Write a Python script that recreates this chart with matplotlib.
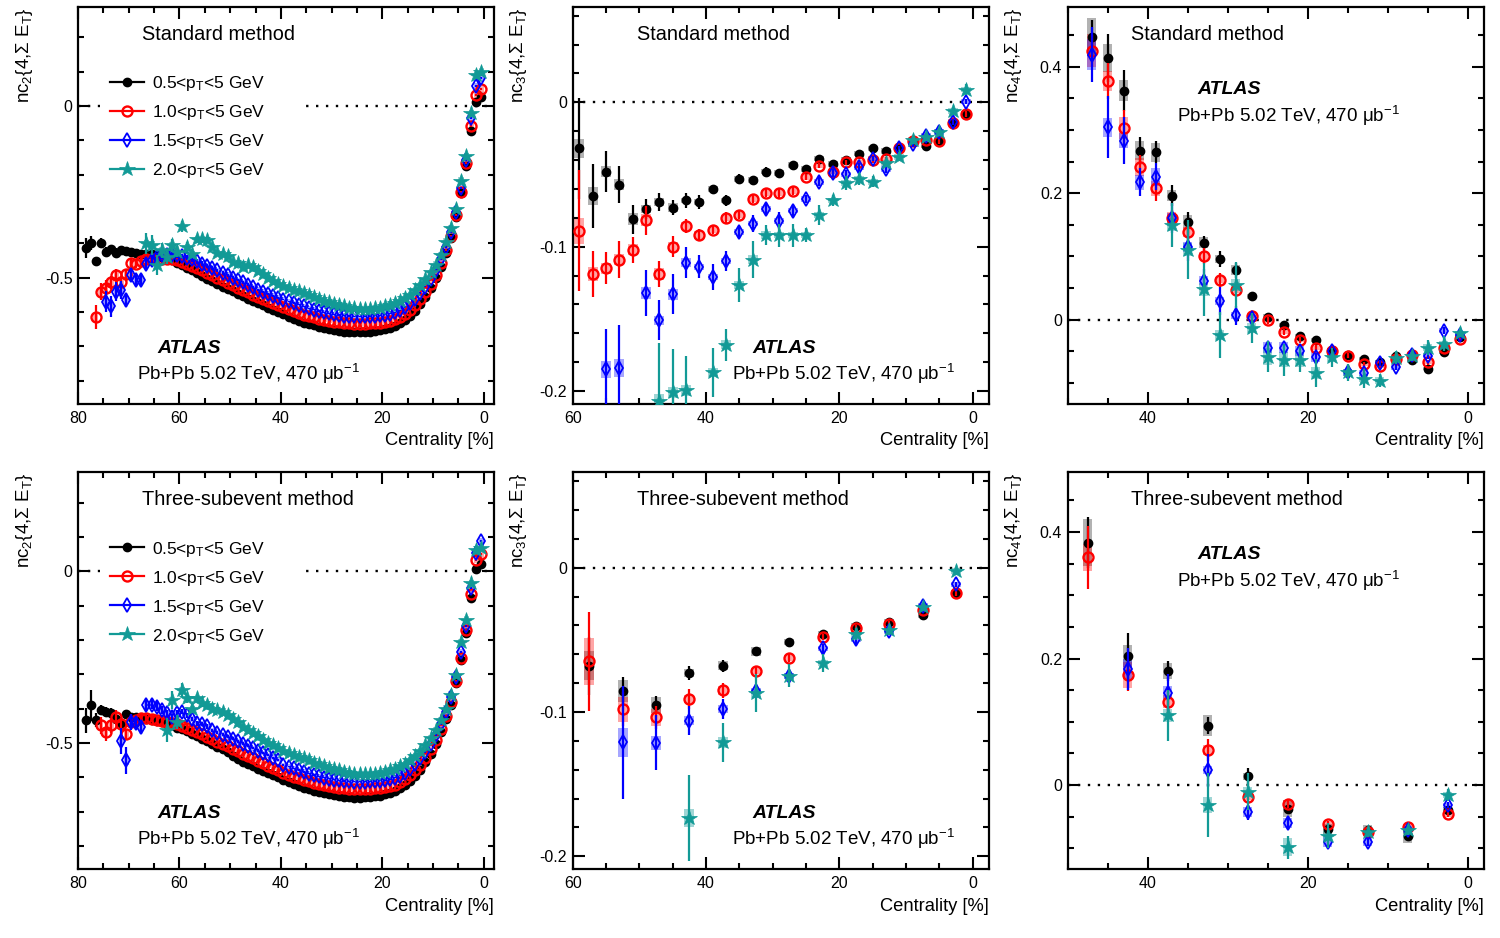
import numpy as np
import matplotlib
matplotlib.use("Agg")
import matplotlib.pyplot as plt
from matplotlib.lines import Line2D
from matplotlib.patches import Rectangle
from matplotlib.ticker import MultipleLocator, FuncFormatter

plt.rcParams['font.family'] = ['Liberation Sans', 'DejaVu Sans']
plt.rcParams['mathtext.fontset'] = 'custom'
plt.rcParams['mathtext.rm'] = 'Liberation Sans'
plt.rcParams['mathtext.it'] = 'Liberation Sans:italic'
plt.rcParams['mathtext.bf'] = 'Liberation Sans:bold'
plt.rcParams['axes.unicode_minus'] = False

# ------------------------------------------------------------------ labels
SERIES_LABELS = ['0.5<p$_{\\rm T}$<5 GeV', '1.0<p$_{\\rm T}$<5 GeV',
                 '1.5<p$_{\\rm T}$<5 GeV', '2.0<p$_{\\rm T}$<5 GeV']
YLABELS = ['nc$_{2}${4,Σ E$_{\\rm T}$}', 'nc$_{3}${4,Σ E$_{\\rm T}$}',
           'nc$_{4}${4,Σ E$_{\\rm T}$}']
METHODS = ['Standard method', 'Three-subevent method']
XLABEL = 'Centrality [%]'
ATLAS_TXT = 'ATLAS'
LUMI_TXT = 'Pb+Pb 5.02 TeV, 470 μb$^{-1}$'

# ------------------------------------------------------------------ nc2, standard (1% bins from 0.5 %)
TL_K = [0.027, 0.012, -0.073, -0.174, -0.254, -0.322, -0.385, -0.429, -0.468, -0.502,
        -0.531, -0.556, -0.578, -0.596, -0.611, -0.622, -0.632, -0.640, -0.646, -0.650,
        -0.653, -0.655, -0.657, -0.658, -0.659, -0.659, -0.658, -0.657, -0.655, -0.652,
        -0.650, -0.647, -0.643, -0.639, -0.635, -0.631, -0.626, -0.620, -0.614, -0.607,
        -0.600, -0.594, -0.588, -0.581, -0.575, -0.568, -0.561, -0.554, -0.547, -0.540,
        -0.533, -0.526, -0.518, -0.511, -0.503, -0.495, -0.487, -0.479, -0.471, -0.464,
        -0.457, -0.450, -0.444, -0.439, -0.435, -0.432, -0.430, -0.430, -0.427, -0.426,
        -0.423, -0.420, -0.427, -0.418, -0.424, -0.400, -0.452, -0.400, -0.414]
TL_K_STAT = [0.003, 0.003, 0.003, 0.003, 0.003, 0.003, 0.003, 0.003, 0.003, 0.003,
             0.002, 0.002, 0.002, 0.002, 0.002, 0.002, 0.002, 0.002, 0.002, 0.002,
             0.002, 0.002, 0.002, 0.002, 0.002, 0.002, 0.002, 0.002, 0.002, 0.002,
             0.002, 0.002, 0.002, 0.002, 0.002, 0.002, 0.002, 0.002, 0.002, 0.002,
             0.003, 0.003, 0.003, 0.003, 0.003, 0.003, 0.003, 0.003, 0.003, 0.003,
             0.003, 0.004, 0.004, 0.004, 0.005, 0.005, 0.005, 0.006, 0.006, 0.006,
             0.007, 0.007, 0.008, 0.008, 0.009, 0.009, 0.010, 0.010, 0.011, 0.011,
             0.012, 0.013, 0.014, 0.013, 0.012, 0.015, 0.012, 0.020, 0.030]
TL_K_SYS = [0.010, 0.010, 0.010, 0.010, 0.010, 0.010, 0.010, 0.010, 0.010, 0.010,
            0.008, 0.008, 0.008, 0.008, 0.008, 0.008, 0.008, 0.008, 0.008, 0.008,
            0.008, 0.008, 0.008, 0.008, 0.008, 0.008, 0.008, 0.008, 0.008, 0.008,
            0.007, 0.007, 0.007, 0.007, 0.007, 0.007, 0.007, 0.007, 0.007, 0.007,
            0.007, 0.007, 0.007, 0.007, 0.007, 0.007, 0.007, 0.007, 0.007, 0.007,
            0.008, 0.008, 0.008, 0.008, 0.008, 0.008, 0.008, 0.008, 0.008, 0.008,
            0.009, 0.009, 0.009, 0.009, 0.009, 0.009, 0.009, 0.009, 0.009, 0.009,
            0.010, 0.010, 0.010, 0.010, 0.010, 0.010, 0.010, 0.010, 0.010]

TL_R = [0.049, 0.032, -0.058, -0.167, -0.250, -0.318, -0.378, -0.420, -0.458, -0.491,
        -0.519, -0.543, -0.563, -0.580, -0.594, -0.605, -0.614, -0.621, -0.626, -0.629,
        -0.631, -0.632, -0.633, -0.634, -0.634, -0.634, -0.633, -0.632, -0.630, -0.628,
        -0.626, -0.623, -0.620, -0.616, -0.612, -0.608, -0.603, -0.598, -0.592, -0.586,
        -0.581, -0.575, -0.569, -0.563, -0.557, -0.550, -0.543, -0.536, -0.529, -0.522,
        -0.515, -0.508, -0.500, -0.493, -0.486, -0.478, -0.471, -0.465, -0.459, -0.454,
        -0.449, -0.446, -0.446, -0.447, -0.449, -0.446, -0.445, -0.453, -0.460, -0.458,
        -0.489, -0.512, -0.492, -0.514, -0.530, -0.541, -0.615]
TL_R_STAT = [0.003, 0.003, 0.003, 0.003, 0.003, 0.003, 0.003, 0.003, 0.003, 0.003,
             0.002, 0.002, 0.002, 0.002, 0.002, 0.002, 0.002, 0.002, 0.002, 0.002,
             0.002, 0.002, 0.002, 0.002, 0.002, 0.002, 0.002, 0.002, 0.002, 0.002,
             0.002, 0.002, 0.002, 0.002, 0.002, 0.002, 0.002, 0.002, 0.002, 0.002,
             0.003, 0.003, 0.003, 0.003, 0.003, 0.003, 0.003, 0.003, 0.003, 0.003,
             0.004, 0.004, 0.004, 0.005, 0.005, 0.005, 0.006, 0.006, 0.006, 0.007,
             0.007, 0.008, 0.008, 0.009, 0.009, 0.010, 0.010, 0.011, 0.012, 0.012,
             0.014, 0.016, 0.018, 0.020, 0.022, 0.025, 0.035]
TL_R_SYS = [0.010, 0.010, 0.010, 0.010, 0.010, 0.010, 0.010, 0.010, 0.010, 0.010,
            0.008, 0.008, 0.008, 0.008, 0.008, 0.008, 0.008, 0.008, 0.008, 0.008,
            0.008, 0.008, 0.008, 0.008, 0.008, 0.008, 0.008, 0.008, 0.008, 0.008,
            0.007, 0.007, 0.007, 0.007, 0.007, 0.007, 0.007, 0.007, 0.007, 0.007,
            0.007, 0.007, 0.007, 0.007, 0.007, 0.007, 0.007, 0.007, 0.007, 0.007,
            0.008, 0.008, 0.008, 0.008, 0.008, 0.008, 0.008, 0.008, 0.008, 0.008,
            0.010, 0.010, 0.010, 0.010, 0.010, 0.010, 0.010, 0.010, 0.010, 0.010,
            0.012, 0.012, 0.012, 0.012, 0.012, 0.012, 0.012]

TL_B = [0.080, 0.058, -0.036, -0.157, -0.240, -0.310, -0.368, -0.410, -0.446, -0.477,
        -0.503, -0.526, -0.545, -0.561, -0.575, -0.586, -0.595, -0.601, -0.605, -0.608,
        -0.610, -0.611, -0.612, -0.613, -0.613, -0.613, -0.612, -0.611, -0.609, -0.607,
        -0.604, -0.601, -0.597, -0.593, -0.589, -0.584, -0.579, -0.574, -0.569, -0.564,
        -0.559, -0.553, -0.547, -0.541, -0.535, -0.528, -0.521, -0.514, -0.507, -0.500,
        -0.493, -0.486, -0.479, -0.472, -0.465, -0.459, -0.453, -0.447, -0.442, -0.438,
        -0.435, -0.433, -0.433, -0.435, -0.440, -0.448, -0.460, -0.507, -0.507, -0.492,
        -0.565, -0.536, -0.541, -0.584, -0.570]
TL_B_STAT = [0.003, 0.003, 0.003, 0.003, 0.003, 0.003, 0.003, 0.003, 0.003, 0.003,
             0.002, 0.002, 0.002, 0.002, 0.002, 0.002, 0.002, 0.002, 0.002, 0.002,
             0.002, 0.002, 0.002, 0.002, 0.002, 0.002, 0.002, 0.002, 0.002, 0.002,
             0.002, 0.002, 0.002, 0.002, 0.002, 0.002, 0.002, 0.002, 0.002, 0.002,
             0.003, 0.003, 0.003, 0.003, 0.003, 0.004, 0.004, 0.004, 0.004, 0.004,
             0.004, 0.005, 0.005, 0.005, 0.006, 0.006, 0.007, 0.007, 0.008, 0.008,
             0.009, 0.009, 0.010, 0.011, 0.012, 0.013, 0.014, 0.015, 0.016, 0.018,
             0.020, 0.025, 0.028, 0.030, 0.030]
TL_B_SYS = [0.010, 0.010, 0.010, 0.010, 0.010, 0.010, 0.010, 0.010, 0.010, 0.010,
            0.008, 0.008, 0.008, 0.008, 0.008, 0.008, 0.008, 0.008, 0.008, 0.008,
            0.008, 0.008, 0.008, 0.008, 0.008, 0.008, 0.008, 0.008, 0.008, 0.008,
            0.007, 0.007, 0.007, 0.007, 0.007, 0.007, 0.007, 0.007, 0.007, 0.007,
            0.007, 0.007, 0.007, 0.007, 0.007, 0.007, 0.007, 0.007, 0.007, 0.007,
            0.008, 0.008, 0.008, 0.008, 0.008, 0.008, 0.008, 0.008, 0.008, 0.008,
            0.010, 0.010, 0.010, 0.010, 0.010, 0.010, 0.010, 0.010, 0.010, 0.010,
            0.012, 0.012, 0.012, 0.012, 0.012]

TL_G = [0.100, 0.090, -0.021, -0.146, -0.218, -0.300, -0.356, -0.396, -0.434, -0.462,
        -0.485, -0.505, -0.522, -0.537, -0.550, -0.560, -0.568, -0.575, -0.580, -0.584,
        -0.587, -0.589, -0.590, -0.590, -0.590, -0.589, -0.587, -0.584, -0.580, -0.576,
        -0.572, -0.567, -0.562, -0.557, -0.551, -0.545, -0.540, -0.535, -0.530, -0.524,
        -0.518, -0.510, -0.500, -0.490, -0.480, -0.468, -0.463, -0.470, -0.458, -0.455,
        -0.438, -0.430, -0.428, -0.410, -0.390, -0.387, -0.387, -0.430, -0.410, -0.351,
        -0.425, -0.405, -0.440, -0.420, -0.463, -0.405, -0.400]
TL_G_STAT = [0.004, 0.004, 0.004, 0.004, 0.004, 0.004, 0.004, 0.004, 0.004, 0.004,
             0.003, 0.003, 0.003, 0.003, 0.003, 0.003, 0.003, 0.003, 0.003, 0.003,
             0.003, 0.003, 0.003, 0.003, 0.003, 0.003, 0.003, 0.003, 0.003, 0.003,
             0.003, 0.003, 0.003, 0.003, 0.003, 0.003, 0.003, 0.003, 0.003, 0.003,
             0.004, 0.004, 0.005, 0.005, 0.005, 0.006, 0.006, 0.007, 0.007, 0.008,
             0.008, 0.009, 0.009, 0.010, 0.010, 0.011, 0.012, 0.013, 0.014, 0.015,
             0.016, 0.018, 0.020, 0.022, 0.030, 0.030, 0.030]
TL_G_SYS = [0.010, 0.010, 0.010, 0.010, 0.010, 0.010, 0.010, 0.010, 0.010, 0.010,
            0.008, 0.008, 0.008, 0.008, 0.008, 0.008, 0.008, 0.008, 0.008, 0.008,
            0.008, 0.008, 0.008, 0.008, 0.008, 0.008, 0.008, 0.008, 0.008, 0.008,
            0.007, 0.007, 0.007, 0.007, 0.007, 0.007, 0.007, 0.007, 0.007, 0.007,
            0.007, 0.007, 0.007, 0.007, 0.007, 0.007, 0.007, 0.007, 0.007, 0.007,
            0.008, 0.008, 0.008, 0.008, 0.008, 0.008, 0.008, 0.008, 0.008, 0.008,
            0.010, 0.010, 0.010, 0.010, 0.010, 0.010, 0.010]

# ------------------------------------------------------------------ nc2, three-subevent (1% bins)
BL_K = [0.020, 0.007, -0.078, -0.180, -0.257, -0.326, -0.390, -0.429, -0.468, -0.502,
        -0.531, -0.556, -0.578, -0.596, -0.611, -0.622, -0.632, -0.640, -0.646, -0.650,
        -0.653, -0.655, -0.657, -0.658, -0.659, -0.659, -0.658, -0.657, -0.655, -0.652,
        -0.650, -0.647, -0.643, -0.639, -0.635, -0.631, -0.626, -0.620, -0.614, -0.607,
        -0.600, -0.594, -0.588, -0.581, -0.575, -0.568, -0.561, -0.554, -0.546, -0.539,
        -0.527, -0.519, -0.511, -0.503, -0.495, -0.487, -0.480, -0.473, -0.466, -0.460,
        -0.455, -0.449, -0.444, -0.440, -0.436, -0.433, -0.431, -0.430, -0.425, -0.425,
        -0.416, -0.443, -0.429, -0.414, -0.409, -0.404, -0.434, -0.390, -0.434]
BL_K_STAT = [0.003, 0.003, 0.003, 0.003, 0.003, 0.003, 0.003, 0.003, 0.003, 0.003,
             0.002, 0.002, 0.002, 0.002, 0.002, 0.002, 0.002, 0.002, 0.002, 0.002,
             0.002, 0.002, 0.002, 0.002, 0.002, 0.002, 0.002, 0.002, 0.002, 0.002,
             0.002, 0.002, 0.002, 0.002, 0.002, 0.002, 0.002, 0.002, 0.002, 0.002,
             0.003, 0.003, 0.003, 0.003, 0.003, 0.003, 0.003, 0.003, 0.003, 0.003,
             0.003, 0.004, 0.004, 0.004, 0.005, 0.005, 0.005, 0.006, 0.006, 0.006,
             0.007, 0.007, 0.008, 0.008, 0.009, 0.009, 0.010, 0.010, 0.011, 0.012,
             0.013, 0.015, 0.016, 0.015, 0.014, 0.015, 0.020, 0.045, 0.037]
BL_K_SYS = [0.010, 0.010, 0.010, 0.010, 0.010, 0.010, 0.010, 0.010, 0.010, 0.010,
            0.008, 0.008, 0.008, 0.008, 0.008, 0.008, 0.008, 0.008, 0.008, 0.008,
            0.008, 0.008, 0.008, 0.008, 0.008, 0.008, 0.008, 0.008, 0.008, 0.008,
            0.007, 0.007, 0.007, 0.007, 0.007, 0.007, 0.007, 0.007, 0.007, 0.007,
            0.007, 0.007, 0.007, 0.007, 0.007, 0.007, 0.007, 0.007, 0.007, 0.007,
            0.008, 0.008, 0.008, 0.008, 0.008, 0.008, 0.008, 0.008, 0.008, 0.008,
            0.009, 0.009, 0.009, 0.009, 0.009, 0.009, 0.009, 0.009, 0.009, 0.009,
            0.010, 0.010, 0.010, 0.010, 0.010, 0.010, 0.010, 0.010, 0.010]

BL_R = [0.049, 0.034, -0.066, -0.170, -0.253, -0.320, -0.380, -0.421, -0.459, -0.492,
        -0.519, -0.543, -0.563, -0.580, -0.594, -0.605, -0.614, -0.621, -0.626, -0.629,
        -0.631, -0.632, -0.633, -0.634, -0.634, -0.634, -0.633, -0.632, -0.630, -0.628,
        -0.626, -0.623, -0.620, -0.616, -0.612, -0.608, -0.603, -0.598, -0.592, -0.586,
        -0.578, -0.572, -0.566, -0.559, -0.552, -0.545, -0.538, -0.531, -0.524, -0.517,
        -0.510, -0.503, -0.496, -0.489, -0.482, -0.475, -0.468, -0.461, -0.455, -0.450,
        -0.446, -0.442, -0.439, -0.436, -0.433, -0.430, -0.427, -0.427, -0.434, -0.439,
        -0.473, -0.445, -0.424, -0.448, -0.468, -0.448]
BL_R_STAT = [0.003, 0.003, 0.003, 0.003, 0.003, 0.003, 0.003, 0.003, 0.003, 0.003,
             0.002, 0.002, 0.002, 0.002, 0.002, 0.002, 0.002, 0.002, 0.002, 0.002,
             0.002, 0.002, 0.002, 0.002, 0.002, 0.002, 0.002, 0.002, 0.002, 0.002,
             0.002, 0.002, 0.002, 0.002, 0.002, 0.002, 0.002, 0.002, 0.002, 0.002,
             0.003, 0.003, 0.003, 0.003, 0.003, 0.003, 0.003, 0.003, 0.003, 0.003,
             0.004, 0.004, 0.004, 0.005, 0.005, 0.005, 0.006, 0.006, 0.006, 0.007,
             0.007, 0.008, 0.008, 0.009, 0.009, 0.010, 0.010, 0.011, 0.012, 0.013,
             0.015, 0.017, 0.020, 0.022, 0.025, 0.025]
BL_R_SYS = [0.010, 0.010, 0.010, 0.010, 0.010, 0.010, 0.010, 0.010, 0.010, 0.010,
            0.008, 0.008, 0.008, 0.008, 0.008, 0.008, 0.008, 0.008, 0.008, 0.008,
            0.008, 0.008, 0.008, 0.008, 0.008, 0.008, 0.008, 0.008, 0.008, 0.008,
            0.007, 0.007, 0.007, 0.007, 0.007, 0.007, 0.007, 0.007, 0.007, 0.007,
            0.007, 0.007, 0.007, 0.007, 0.007, 0.007, 0.007, 0.007, 0.007, 0.007,
            0.008, 0.008, 0.008, 0.008, 0.008, 0.008, 0.008, 0.008, 0.008, 0.008,
            0.010, 0.010, 0.010, 0.010, 0.010, 0.010, 0.010, 0.010, 0.010, 0.010,
            0.012, 0.012, 0.012, 0.012, 0.012, 0.012]

BL_B = [0.088, 0.053, -0.049, -0.159, -0.236, -0.308, -0.366, -0.409, -0.445, -0.476,
        -0.503, -0.526, -0.545, -0.561, -0.575, -0.586, -0.595, -0.601, -0.605, -0.608,
        -0.610, -0.611, -0.612, -0.613, -0.613, -0.613, -0.612, -0.611, -0.609, -0.607,
        -0.604, -0.601, -0.597, -0.593, -0.589, -0.584, -0.579, -0.574, -0.569, -0.564,
        -0.549, -0.543, -0.536, -0.529, -0.522, -0.515, -0.508, -0.502, -0.495, -0.488,
        -0.482, -0.476, -0.470, -0.463, -0.452, -0.445, -0.443, -0.430, -0.420, -0.409,
        -0.414, -0.424, -0.414, -0.404, -0.394, -0.389, -0.389, -0.453, -0.443, -0.439,
        -0.551, -0.494]
BL_B_STAT = [0.003, 0.003, 0.003, 0.003, 0.003, 0.003, 0.003, 0.003, 0.003, 0.003,
             0.002, 0.002, 0.002, 0.002, 0.002, 0.002, 0.002, 0.002, 0.002, 0.002,
             0.002, 0.002, 0.002, 0.002, 0.002, 0.002, 0.002, 0.002, 0.002, 0.002,
             0.002, 0.002, 0.002, 0.002, 0.002, 0.002, 0.002, 0.002, 0.002, 0.002,
             0.003, 0.003, 0.003, 0.003, 0.003, 0.004, 0.004, 0.004, 0.004, 0.004,
             0.004, 0.005, 0.005, 0.005, 0.006, 0.006, 0.007, 0.007, 0.008, 0.008,
             0.009, 0.009, 0.010, 0.011, 0.012, 0.013, 0.014, 0.020, 0.020, 0.022,
             0.040, 0.038]
BL_B_SYS = [0.010, 0.010, 0.010, 0.010, 0.010, 0.010, 0.010, 0.010, 0.010, 0.010,
            0.008, 0.008, 0.008, 0.008, 0.008, 0.008, 0.008, 0.008, 0.008, 0.008,
            0.008, 0.008, 0.008, 0.008, 0.008, 0.008, 0.008, 0.008, 0.008, 0.008,
            0.007, 0.007, 0.007, 0.007, 0.007, 0.007, 0.007, 0.007, 0.007, 0.007,
            0.007, 0.007, 0.007, 0.007, 0.007, 0.007, 0.007, 0.007, 0.007, 0.007,
            0.008, 0.008, 0.008, 0.008, 0.008, 0.008, 0.008, 0.008, 0.008, 0.008,
            0.010, 0.010, 0.010, 0.010, 0.010, 0.010, 0.010, 0.010, 0.010, 0.010,
            0.012, 0.012]

BL_G = [0.068, 0.063, -0.034, -0.141, -0.207, -0.302, -0.360, -0.400, -0.434, -0.463,
        -0.485, -0.505, -0.522, -0.537, -0.550, -0.560, -0.568, -0.575, -0.580, -0.584,
        -0.587, -0.589, -0.590, -0.590, -0.590, -0.589, -0.587, -0.584, -0.580, -0.576,
        -0.572, -0.567, -0.562, -0.557, -0.551, -0.545, -0.540, -0.535, -0.530, -0.522,
        -0.515, -0.507, -0.500, -0.490, -0.480, -0.470, -0.462, -0.453, -0.440, -0.430,
        -0.419, -0.410, -0.404, -0.400, -0.390, -0.385, -0.370, -0.400, -0.370, -0.346,
        -0.440, -0.375, -0.463]
BL_G_STAT = [0.004, 0.004, 0.004, 0.004, 0.004, 0.004, 0.004, 0.004, 0.004, 0.004,
             0.003, 0.003, 0.003, 0.003, 0.003, 0.003, 0.003, 0.003, 0.003, 0.003,
             0.003, 0.003, 0.003, 0.003, 0.003, 0.003, 0.003, 0.003, 0.003, 0.003,
             0.003, 0.003, 0.003, 0.003, 0.003, 0.003, 0.003, 0.003, 0.003, 0.003,
             0.004, 0.004, 0.005, 0.005, 0.005, 0.006, 0.006, 0.007, 0.007, 0.008,
             0.008, 0.009, 0.009, 0.010, 0.010, 0.011, 0.012, 0.013, 0.014, 0.020,
             0.020, 0.025, 0.035]
BL_G_SYS = [0.010, 0.010, 0.010, 0.010, 0.010, 0.010, 0.010, 0.010, 0.010, 0.010,
            0.008, 0.008, 0.008, 0.008, 0.008, 0.008, 0.008, 0.008, 0.008, 0.008,
            0.008, 0.008, 0.008, 0.008, 0.008, 0.008, 0.008, 0.008, 0.008, 0.008,
            0.007, 0.007, 0.007, 0.007, 0.007, 0.007, 0.007, 0.007, 0.007, 0.007,
            0.007, 0.007, 0.007, 0.007, 0.007, 0.007, 0.007, 0.007, 0.007, 0.007,
            0.008, 0.008, 0.008, 0.008, 0.008, 0.008, 0.008, 0.008, 0.008, 0.008,
            0.010, 0.010, 0.010]

# ------------------------------------------------------------------ nc3, standard (2% bins)
TM_K_X = [59, 57, 55, 53, 51, 49, 47, 45, 43, 41, 39, 37, 35, 33, 31, 29, 27, 25, 23, 21,
          19, 17, 15, 13, 11, 9, 7, 5, 3, 1]
TM_K = [-0.032, -0.065, -0.048, -0.057, -0.081, -0.074, -0.069, -0.073, -0.068, -0.069,
        -0.060, -0.068, -0.053, -0.054, -0.048, -0.049, -0.0435, -0.046, -0.039, -0.043,
        -0.040, -0.0355, -0.032, -0.034, -0.032, -0.027, -0.030, -0.027, -0.014, -0.0083]
TM_K_STAT = [0.035, 0.022, 0.014, 0.013, 0.010, 0.007, 0.006, 0.005, 0.005, 0.005,
             0.003, 0.004, 0.003, 0.003, 0.003, 0.003, 0.002, 0.002, 0.002, 0.002,
             0.002, 0.002, 0.002, 0.002, 0.002, 0.002, 0.002, 0.002, 0.002, 0.002]
TM_K_SYS = [0.0065, 0.006, 0.004, 0.004, 0.004, 0.003, 0.003, 0.003, 0.002, 0.002,
            0.002, 0.002, 0.002, 0.002, 0.002, 0.002, 0.002, 0.002, 0.002, 0.002,
            0.002, 0.002, 0.002, 0.002, 0.002, 0.002, 0.002, 0.002, 0.002, 0.002]
TM_R_X = TM_K_X
TM_R = [-0.089, -0.119, -0.115, -0.109, -0.102, -0.0816, -0.119, -0.100, -0.0857, -0.092,
        -0.0885, -0.080, -0.078, -0.067, -0.0627, -0.063, -0.0615, -0.052, -0.0438, -0.048,
        -0.0417, -0.0417, -0.040, -0.0396, -0.032, -0.027, -0.026, -0.027, -0.014, -0.0083]
TM_R_STAT = [0.042, 0.016, 0.011, 0.013, 0.009, 0.010, 0.009, 0.0075, 0.005, 0.004,
             0.003, 0.004, 0.003, 0.003, 0.003, 0.003, 0.003, 0.002, 0.002, 0.002,
             0.002, 0.002, 0.002, 0.002, 0.002, 0.002, 0.002, 0.002, 0.002, 0.002]
TM_R_SYS = [0.009, 0.005, 0.004, 0.004, 0.004, 0.004, 0.004, 0.003, 0.003, 0.003,
            0.002, 0.002, 0.002, 0.002, 0.002, 0.002, 0.002, 0.002, 0.002, 0.002,
            0.002, 0.002, 0.002, 0.002, 0.002, 0.002, 0.002, 0.002, 0.002, 0.002]
TM_B_X = [55, 53, 49, 47, 45, 43, 41, 39, 37, 35, 33, 31, 29, 27, 25, 23, 21, 19, 17, 15,
          13, 11, 9, 7, 5, 3, 1]
TM_B = [-0.185, -0.184, -0.132, -0.151, -0.133, -0.111, -0.114, -0.121, -0.110, -0.090,
        -0.084, -0.074, -0.082, -0.075, -0.067, -0.055, -0.049, -0.050, -0.045, -0.039,
        -0.046, -0.032, -0.029, -0.023, -0.0205, -0.0136, 0.0005]
TM_B_STAT = [0.028, 0.030, 0.016, 0.014, 0.014, 0.011, 0.008, 0.009, 0.007, 0.004,
             0.006, 0.004, 0.006, 0.004, 0.003, 0.003, 0.003, 0.003, 0.003, 0.002,
             0.003, 0.002, 0.002, 0.002, 0.002, 0.002, 0.002]
TM_B_SYS = [0.006, 0.006, 0.004, 0.003, 0.004, 0.003, 0.002, 0.002, 0.002, 0.002,
            0.002, 0.002, 0.002, 0.002, 0.002, 0.002, 0.002, 0.002, 0.002, 0.002,
            0.002, 0.002, 0.002, 0.002, 0.002, 0.002, 0.002]
TM_G_X = [47, 45, 43, 39, 37, 35, 33, 31, 29, 27, 25, 23, 21, 19, 17, 15, 13, 11, 9, 7,
          5, 3, 1]
TM_G = [-0.207, -0.201, -0.1995, -0.187, -0.168, -0.1265, -0.109, -0.092, -0.092, -0.092,
        -0.092, -0.078, -0.068, -0.056, -0.053, -0.055, -0.042, -0.038, -0.026, -0.024,
        -0.0205, -0.006, 0.0088]
TM_G_STAT = [0.040, 0.030, 0.024, 0.017, 0.011, 0.012, 0.013, 0.007, 0.008, 0.008,
             0.005, 0.007, 0.004, 0.005, 0.004, 0.004, 0.003, 0.003, 0.003, 0.003,
             0.003, 0.003, 0.004]
TM_G_SYS = [0.005, 0.004, 0.004, 0.003, 0.003, 0.003, 0.003, 0.003, 0.002, 0.002,
            0.002, 0.002, 0.002, 0.002, 0.002, 0.002, 0.002, 0.002, 0.002, 0.002,
            0.002, 0.002, 0.002]

# ------------------------------------------------------------------ nc3, three-subevent (5% bins)
BM_K_X = [57.5, 52.5, 47.5, 42.5, 37.5, 32.5, 27.5, 22.5, 17.5, 12.5, 7.5, 2.5]
BM_K = [-0.068, -0.0855, -0.095, -0.073, -0.068, -0.058, -0.0513, -0.046, -0.0405, -0.0375,
        -0.033, -0.0173]
BM_K_STAT = [0.020, 0.010, 0.006, 0.005, 0.004, 0.003, 0.002, 0.002, 0.002, 0.002, 0.002, 0.002]
BM_K_SYS = [0.010, 0.0075, 0.0055, 0.003, 0.003, 0.003, 0.002, 0.002, 0.002, 0.002, 0.002, 0.002]
BM_R_X = BM_K_X
BM_R = [-0.065, -0.098, -0.1036, -0.091, -0.085, -0.0717, -0.0627, -0.0483, -0.0416, -0.039,
        -0.0296, -0.0173]
BM_R_STAT = [0.034, 0.012, 0.008, 0.007, 0.005, 0.003, 0.003, 0.002, 0.002, 0.002, 0.002, 0.002]
BM_R_SYS = [0.016, 0.0087, 0.006, 0.003, 0.003, 0.002, 0.002, 0.002, 0.002, 0.002, 0.002, 0.002]
BM_B_X = [52.5, 47.5, 42.5, 37.5, 32.5, 27.5, 22.5, 17.5, 12.5, 7.5, 2.5]
BM_B = [-0.121, -0.1214, -0.106, -0.098, -0.0855, -0.075, -0.056, -0.0497, -0.044, -0.0266,
        -0.0116]
BM_B_STAT = [0.039, 0.019, 0.010, 0.007, 0.005, 0.004, 0.003, 0.003, 0.002, 0.002, 0.002]
BM_B_SYS = [0.010, 0.005, 0.003, 0.003, 0.002, 0.002, 0.002, 0.002, 0.002, 0.002, 0.002]
BM_G_X = [42.5, 37.5, 32.5, 27.5, 22.5, 17.5, 12.5, 7.5, 2.5]
BM_G = [-0.1734, -0.121, -0.087, -0.075, -0.066, -0.0458, -0.0435, -0.0273, -0.0023]
BM_G_STAT = [0.030, 0.0135, 0.013, 0.008, 0.006, 0.004, 0.003, 0.003, 0.003]
BM_G_SYS = [0.006, 0.004, 0.003, 0.002, 0.002, 0.002, 0.002, 0.002, 0.002]

# ------------------------------------------------------------------ nc4, standard (2% bins)
TR_K_X = [47, 45, 43, 41, 39, 37, 35, 33, 31, 29, 27, 25, 23, 21, 19, 17, 15, 13, 11, 9,
          7, 5, 3, 1]
TR_K = [0.446, 0.414, 0.362, 0.267, 0.265, 0.196, 0.154, 0.122, 0.096, 0.078,
        0.037, 0.005, -0.008, -0.025, -0.032, -0.048, -0.056, -0.062, -0.067, -0.057,
        -0.064, -0.077, -0.051, -0.027]
TR_K_STAT = [0.028, 0.038, 0.032, 0.022, 0.018, 0.017, 0.017, 0.011, 0.013, 0.012,
             0.005, 0.005, 0.005, 0.005, 0.005, 0.004, 0.004, 0.004, 0.004, 0.004,
             0.004, 0.004, 0.004, 0.003]
TR_K_SYS = [0.030, 0.022, 0.017, 0.015, 0.015, 0.009, 0.011, 0.009, 0.007, 0.008,
            0.004, 0.004, 0.003, 0.003, 0.003, 0.003, 0.003, 0.003, 0.003, 0.003,
            0.003, 0.003, 0.003, 0.003]
TR_R_X = TR_K_X
TR_R = [0.425, 0.377, 0.303, 0.241, 0.208, 0.161, 0.139, 0.101, 0.063, 0.047,
        0.0063, -0.001, -0.019, -0.032, -0.045, -0.050, -0.057, -0.070, -0.073, -0.0616,
        -0.055, -0.067, -0.044, -0.0305]
TR_R_STAT = [0.025, 0.028, 0.028, 0.020, 0.020, 0.013, 0.015, 0.013, 0.011, 0.010,
             0.006, 0.005, 0.005, 0.005, 0.005, 0.004, 0.004, 0.004, 0.004, 0.004,
             0.004, 0.004, 0.004, 0.003]
TR_R_SYS = [0.026, 0.016, 0.018, 0.014, 0.012, 0.009, 0.008, 0.006, 0.005, 0.005,
            0.004, 0.004, 0.003, 0.003, 0.003, 0.003, 0.003, 0.003, 0.003, 0.003,
            0.003, 0.003, 0.003, 0.003]
TR_B_X = TR_K_X
TR_B = [0.419, 0.304, 0.283, 0.217, 0.226, 0.161, 0.115, 0.062, 0.030, 0.007,
        0.0026, -0.044, -0.044, -0.049, -0.059, -0.049, -0.083, -0.084, -0.068, -0.075,
        -0.055, -0.057, -0.017, -0.024]
TR_B_STAT = [0.043, 0.049, 0.037, 0.022, 0.021, 0.024, 0.022, 0.018, 0.022, 0.015,
             0.008, 0.006, 0.006, 0.006, 0.006, 0.005, 0.005, 0.005, 0.005, 0.005,
             0.005, 0.005, 0.005, 0.004]
TR_B_SYS = [0.024, 0.015, 0.012, 0.012, 0.014, 0.008, 0.008, 0.007, 0.006, 0.005,
            0.005, 0.009, 0.009, 0.008, 0.008, 0.005, 0.005, 0.004, 0.004, 0.004,
            0.004, 0.004, 0.004, 0.004]
TR_G_X = [37, 35, 33, 31, 29, 27, 25, 23, 21, 19, 17, 15, 13, 11, 9, 7, 5, 3, 1]
TR_G = [0.150, 0.111, 0.048, -0.024, 0.055, -0.013, -0.058, -0.063, -0.063, -0.084,
        -0.059, -0.083, -0.093, -0.096, -0.060, -0.057, -0.044, -0.038, -0.021]
TR_G_STAT = [0.035, 0.047, 0.042, 0.037, 0.037, 0.023, 0.025, 0.025, 0.020, 0.022,
             0.015, 0.013, 0.015, 0.010, 0.010, 0.008, 0.012, 0.012, 0.006]
TR_G_SYS = [0.010, 0.010, 0.010, 0.008, 0.010, 0.008, 0.014, 0.012, 0.012, 0.010,
            0.008, 0.006, 0.006, 0.006, 0.005, 0.005, 0.005, 0.005, 0.004]

# ------------------------------------------------------------------ nc4, three-subevent (5% bins)
BR_K_X = [47.5, 42.5, 37.5, 32.5, 27.5, 22.5, 17.5, 12.5, 7.5, 2.5]
BR_K = [0.383, 0.204, 0.180, 0.094, 0.0137, -0.037, -0.069, -0.071, -0.081, -0.039]
BR_K_STAT = [0.040, 0.037, 0.016, 0.014, 0.013, 0.006, 0.005, 0.005, 0.005, 0.004]
BR_K_SYS = [0.037, 0.017, 0.013, 0.016, 0.006, 0.014, 0.008, 0.008, 0.010, 0.005]
BR_R_X = BR_K_X
BR_R = [0.360, 0.174, 0.132, 0.0557, -0.018, -0.030, -0.0615, -0.0736, -0.0668, -0.0457]
BR_R_STAT = [0.050, 0.025, 0.020, 0.017, 0.010, 0.006, 0.005, 0.005, 0.005, 0.004]
BR_R_SYS = [0.021, 0.020, 0.010, 0.008, 0.006, 0.006, 0.005, 0.005, 0.005, 0.004]
BR_B_X = [42.5, 37.5, 32.5, 27.5, 22.5, 17.5, 12.5, 7.5, 2.5]
BR_B = [0.183, 0.146, 0.0237, -0.043, -0.060, -0.090, -0.090, -0.071, -0.0315]
BR_B_STAT = [0.033, 0.029, 0.026, 0.012, 0.008, 0.006, 0.006, 0.005, 0.005]
BR_B_SYS = [0.016, 0.010, 0.006, 0.008, 0.008, 0.008, 0.006, 0.005, 0.004]
BR_G_X = [37.5, 32.5, 27.5, 22.5, 17.5, 12.5, 7.5, 2.5]
BR_G = [0.110, -0.0315, -0.0105, -0.098, -0.080, -0.0736, -0.071, -0.0158]
BR_G_STAT = [0.040, 0.050, 0.029, 0.018, 0.020, 0.008, 0.008, 0.010]
BR_G_SYS = [0.010, 0.012, 0.008, 0.014, 0.008, 0.006, 0.006, 0.005]

# ------------------------------------------------------------------ styles
TEAL = '#129a96'
STYLES = [
    dict(color='black', marker='o', ms=6.0, mfc='black', mew=1.0, box=(0, 0, 0, 0.30)),
    dict(color='#ff0000', marker='o', ms=7.2, mfc='none', mew=1.7, box=(1, 0, 0, 0.35)),
    dict(color='#0000ff', marker='d', ms=7.0, mfc='none', mew=1.3, box=(0, 0, 1, 0.35)),
    dict(color=TEAL, marker='*', ms=11.5, mfc=TEAL, mew=0.5, box=(0.07, 0.6, 0.59, 0.40)),
]


def bins(vals):
    # centrality bin centres of the 1 % binning, starting at 0.5 %
    return np.arange(len(vals)) + 0.5


PANELS = [
    # (row, col, series list [(x, y, stat, sys)], box half width)
    (0, 0, [(bins(TL_K), TL_K, TL_K_STAT, TL_K_SYS), (bins(TL_R), TL_R, TL_R_STAT, TL_R_SYS),
            (bins(TL_B), TL_B, TL_B_STAT, TL_B_SYS), (bins(TL_G), TL_G, TL_G_STAT, TL_G_SYS)], 0.5),
    (0, 1, [(TM_K_X, TM_K, TM_K_STAT, TM_K_SYS), (TM_R_X, TM_R, TM_R_STAT, TM_R_SYS),
            (TM_B_X, TM_B, TM_B_STAT, TM_B_SYS), (TM_G_X, TM_G, TM_G_STAT, TM_G_SYS)], 0.75),
    (0, 2, [(TR_K_X, TR_K, TR_K_STAT, TR_K_SYS), (TR_R_X, TR_R, TR_R_STAT, TR_R_SYS),
            (TR_B_X, TR_B, TR_B_STAT, TR_B_SYS), (TR_G_X, TR_G, TR_G_STAT, TR_G_SYS)], 0.6),
    (1, 0, [(bins(BL_K), BL_K, BL_K_STAT, BL_K_SYS), (bins(BL_R), BL_R, BL_R_STAT, BL_R_SYS),
            (bins(BL_B), BL_B, BL_B_STAT, BL_B_SYS), (bins(BL_G), BL_G, BL_G_STAT, BL_G_SYS)], 0.5),
    (1, 1, [(BM_K_X, BM_K, BM_K_STAT, BM_K_SYS), (BM_R_X, BM_R, BM_R_STAT, BM_R_SYS),
            (BM_B_X, BM_B, BM_B_STAT, BM_B_SYS), (BM_G_X, BM_G, BM_G_STAT, BM_G_SYS)], 0.75),
    (1, 2, [(BR_K_X, BR_K, BR_K_STAT, BR_K_SYS), (BR_R_X, BR_R, BR_R_STAT, BR_R_SYS),
            (BR_B_X, BR_B, BR_B_STAT, BR_B_SYS), (BR_G_X, BR_G, BR_G_STAT, BR_G_SYS)], 0.6),
]

COL_CFG = [
    dict(xlim=(80, -2.0), ylim=(-0.868, 0.288), xmaj=20, xmin=5, ymaj=0.5, ymin=0.1),
    dict(xlim=(60, -2.4), ylim=(-0.209, 0.066), xmaj=20, xmin=5, ymaj=0.1, ymin=0.02),
    dict(xlim=(50, -2.0), ylim=(-0.133, 0.494), xmaj=20, xmin=5, ymaj=0.2, ymin=0.05),
]
# text anchor positions (axes fraction, baseline)
TXT_POS = {
    0: dict(method=(0.154, 0.918), atlas=(0.190, 0.129), lumi=(0.142, 0.061)),
    1: dict(method=(0.154, 0.918), atlas=(0.431, 0.129), lumi=(0.383, 0.061)),
    2: dict(method=(0.152, 0.918), atlas=(0.313, 0.782), lumi=(0.263, 0.710)),
}
LEG_Y = [0.812, 0.739, 0.666, 0.593]

fig = plt.figure(figsize=(15, 9.38), dpi=100)
COL_LEFT = [0.052, 0.3818, 0.7118]
ROW_BOTTOM = [0.5693, 0.0732]
W, H = 0.2773, 0.4232

fmt = FuncFormatter(lambda v, p: f'{v + 0:g}')

for row, col, series, hw in PANELS:
    ax = fig.add_axes([COL_LEFT[col], ROW_BOTTOM[row], W, H])
    cfg = COL_CFG[col]
    ax.set_xlim(*cfg['xlim'])
    ax.set_ylim(*cfg['ylim'])
    ax.xaxis.set_major_locator(MultipleLocator(cfg['xmaj']))
    ax.xaxis.set_minor_locator(MultipleLocator(cfg['xmin']))
    ax.yaxis.set_major_locator(MultipleLocator(cfg['ymaj']))
    ax.yaxis.set_minor_locator(MultipleLocator(cfg['ymin']))
    ax.xaxis.set_major_formatter(fmt)
    ax.yaxis.set_major_formatter(fmt)
    ax.tick_params(which='both', direction='in', top=True, right=True, width=1.5,
                   labelsize=11.5)
    ax.tick_params(which='major', length=8.5)
    ax.tick_params(which='minor', length=4.5)
    ax.tick_params(axis='x', pad=5)
    ax.tick_params(axis='y', pad=4)
    for sp in ax.spines.values():
        sp.set_linewidth(1.6)

    ax.axhline(0, color='black', ls=(0, (1, 3.2)), lw=1.7, zorder=0.5)

    # systematic boxes
    for (x, y, st, sy), sty in zip(series, STYLES):
        y = np.asarray(y, float)
        sy = np.asarray(sy, float)
        ax.bar(x, 2 * sy, bottom=y - sy, width=2 * hw, color=sty['box'],
               linewidth=0, zorder=1)
    # points with stat errors
    for i, ((x, y, st, sy), sty) in enumerate(zip(series, STYLES)):
        ax.errorbar(x, y, yerr=st, fmt=sty['marker'], ms=sty['ms'], mfc=sty['mfc'],
                    mec=sty['color'], mew=sty['mew'], ecolor=sty['color'],
                    elinewidth=1.6, capsize=0, ls='none', zorder=3 + i)

    ax.set_xlabel(XLABEL, fontsize=13.2, loc='right')
    ax.xaxis.set_label_coords(1.0, -0.093)
    ax.xaxis.label.set_va('center')
    ax.set_ylabel(YLABELS[col], fontsize=13.5, loc='top')
    ax.yaxis.set_label_coords(-0.104, 1.0)

    tp = TXT_POS[col]
    ax.text(*tp['method'], METHODS[row], transform=ax.transAxes, fontsize=14.3,
            ha='left', va='baseline')
    ax.text(*tp['atlas'], ATLAS_TXT, transform=ax.transAxes, fontsize=14,
            fontweight='bold', fontstyle='italic', ha='left', va='baseline')
    ax.text(*tp['lumi'], LUMI_TXT, transform=ax.transAxes, fontsize=13.5,
            ha='left', va='baseline')

    if col == 0:
        ax.add_patch(Rectangle((0.053, 0.55), 0.481, 0.30, transform=ax.transAxes,
                               facecolor='white', edgecolor='none', zorder=0.8))
        for ly, lab, sty in zip(LEG_Y, SERIES_LABELS, STYLES):
            ax.add_line(Line2D([0.077, 0.159], [ly, ly], transform=ax.transAxes,
                               color=sty['color'], lw=1.6, zorder=10))
            ax.add_line(Line2D([0.118], [ly], transform=ax.transAxes, ls='none',
                               marker=sty['marker'], ms=sty['ms'], mfc=sty['mfc'],
                               mec=sty['color'], mew=sty['mew'], zorder=11))
            ax.text(0.179, ly - 0.0167, lab, transform=ax.transAxes, fontsize=12.5,
                    ha='left', va='baseline', zorder=11)

fig.savefig('out.png', dpi=100)
